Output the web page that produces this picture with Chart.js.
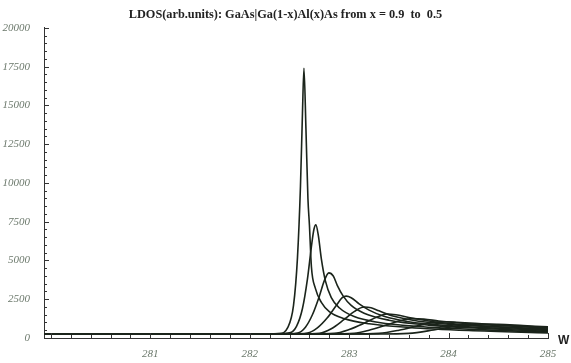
<!DOCTYPE html>
<html>
<head>
<meta charset="utf-8">
<script src="https://cdn.jsdelivr.net/npm/chart.js@4/dist/chart.umd.min.js"></script>
<style>
  html, body { margin: 0; padding: 0; background: #fff; }
  #wrap { width: 571px; height: 363px; }
</style>
</head>
<body>
<div id="wrap"><canvas id="ldos"></canvas></div>
<script>
// x = 0.9 ... 0.5, one curve each
const xTickValues = [281, 282, 283, 284, 285];
const yTickStep = 2500;

const curve1 = [[279.93,250],[282.0,255],[282.3,290],[282.38,650],[282.44,2100],[282.48,5200],[282.51,9800],[282.53,14500],[282.545,17400],[282.565,13500],[282.585,9000],[282.6,7300],[282.62,4600],[282.66,3200],[282.72,2300],[282.8,1700],[282.95,1250],[283.2,920],[283.6,680],[284.2,480],[285,330]];
const curve2 = [[279.93,250],[282.2,258],[282.4,330],[282.47,750],[282.53,1900],[282.58,3800],[282.62,5900],[282.645,7000],[282.665,7300],[282.69,6600],[282.72,5100],[282.76,3700],[282.82,2600],[282.9,1950],[283.05,1380],[283.3,1000],[283.7,740],[284.3,540],[285,380]];
const curve3 = [[279.93,250],[282.3,258],[282.48,320],[282.56,700],[282.63,1500],[282.7,2700],[282.75,3700],[282.795,4200],[282.84,4000],[282.88,3400],[282.94,2700],[283.02,2100],[283.15,1600],[283.4,1150],[283.8,830],[284.4,600],[285,430]];
const curve4 = [[279.93,250],[282.4,258],[282.58,320],[282.68,650],[282.78,1300],[282.87,2100],[282.93,2600],[282.97,2700],[283.02,2600],[283.1,2200],[283.2,1800],[283.35,1400],[283.6,1050],[284.0,800],[284.5,630],[285,480]];
const curve5 = [[279.93,250],[282.5,258],[282.7,310],[282.82,600],[282.95,1200],[283.05,1700],[283.15,2000],[283.22,1950],[283.3,1750],[283.45,1400],[283.7,1080],[284.1,840],[284.6,670],[285,530]];
const curve6 = [[279.93,250],[282.6,258],[282.85,300],[283.0,550],[283.15,950],[283.28,1350],[283.38,1550],[283.47,1500],[283.6,1320],[283.8,1100],[284.1,890],[284.5,730],[285,580]];
const curve7 = [[279.93,250],[282.8,258],[283.05,300],[283.2,500],[283.38,850],[283.52,1130],[283.63,1250],[283.75,1220],[283.9,1100],[284.2,920],[284.6,770],[285,630]];
const curve8 = [[279.93,250],[283.0,258],[283.3,300],[283.5,500],[283.7,800],[283.83,980],[283.93,1050],[284.05,1030],[284.3,930],[284.6,810],[285,680]];
const curve9 = [[279.93,250],[283.3,258],[283.6,300],[283.85,520],[284.05,740],[284.2,860],[284.32,900],[284.5,880],[284.75,800],[285,720]];

const curves = [curve1, curve2, curve3, curve4, curve5, curve6, curve7, curve8, curve9];

const tickFont = { family: "'Liberation Serif', serif", size: 11, style: "italic" };
const tickColor = "#6b786b";
const lineColor = "#1b241b";

// Mathematica style inward ticks plus the "W" axis label
const axisDecor = {
    id: "axisDecor",
    afterDraw(chart){
        const ctx = chart.ctx;
        const xs = chart.scales.x;
        const ys = chart.scales.y;
        const area = chart.chartArea;
        ctx.save();
        ctx.strokeStyle = "#333";
        ctx.lineWidth = 1;
        ctx.beginPath();
        for(let v = 280; v <= 285.001; v += 0.2){
            const px = Math.round(xs.getPixelForValue(v)) + 0.5;
            if(px < area.left) continue;
            const major = Math.abs(v - Math.round(v)) < 0.01;
            ctx.moveTo(px, area.bottom);
            ctx.lineTo(px, area.bottom - (major ? 5 : 3));
        }
        for(let v = 0; v <= 20000; v += 500){
            const py = Math.round(ys.getPixelForValue(v)) + 0.5;
            const major = v % yTickStep === 0;
            ctx.moveTo(area.left, py);
            ctx.lineTo(area.left + (major ? 5 : 3), py);
        }
        ctx.stroke();
        ctx.fillStyle = "#222";
        ctx.font = "bold 12px 'Liberation Sans', sans-serif";
        ctx.textAlign = "left";
        ctx.textBaseline = "middle";
        ctx.fillText("W", area.right + 10, area.bottom + 3);
        ctx.restore();
    }
};

const datasets = [];
for(let i in curves){
    datasets.push({
        label: "curve " + (parseInt(i) + 1),
        data: curves[i].map(p => ({ x: p[0], y: p[1] })),
        borderColor: lineColor,
        borderWidth: 1.6,
        pointRadius: 0,
        fill: false,
        cubicInterpolationMode: "monotone"
    });
}

new Chart(document.getElementById("ldos").getContext("2d"), {
    type: "line",
    data: { datasets: datasets },
    options: {
        responsive: true,
        maintainAspectRatio: false,
        animation: false,
        layout: { padding: 0 },
        plugins: {
            legend: { display: false },
            tooltip: { enabled: false },
            title: {
                display: true,
                text: "LDOS(arb.units): GaAs|Ga(1-x)Al(x)As from x = 0.9  to  0.5",
                color: "#222",
                font: { family: "'Liberation Serif', serif", size: 12.3, weight: "bold" },
                padding: { top: 7, bottom: 6.2 }
            }
        },
        scales: {
            x: {
                type: "linear",
                min: 279.93,
                max: 285,
                afterBuildTicks: s => { s.ticks = xTickValues.map(v => ({ value: v })); },
                afterFit: s => { s.height = 25; },
                grid: { display: false },
                border: { display: true, color: "#333", width: 1 },
                ticks: { font: tickFont, color: tickColor, padding: 2, maxRotation: 0, callback: v => String(v) }
            },
            y: {
                min: 0,
                max: 20000,
                afterFit: s => { s.width = 44; },
                grid: { display: false },
                border: { display: true, color: "#333", width: 1 },
                ticks: { stepSize: yTickStep, font: tickFont, color: tickColor, padding: 6, callback: v => String(v) }
            },
            // empty right-hand strip for the "W" label, so the title stays centred
            yRight: {
                position: "right",
                min: 0,
                max: 20000,
                afterFit: s => { s.width = 23; },
                grid: { display: false },
                border: { display: false },
                ticks: { display: false }
            }
        }
    },
    plugins: [axisDecor]
});
</script>
</body>
</html>
